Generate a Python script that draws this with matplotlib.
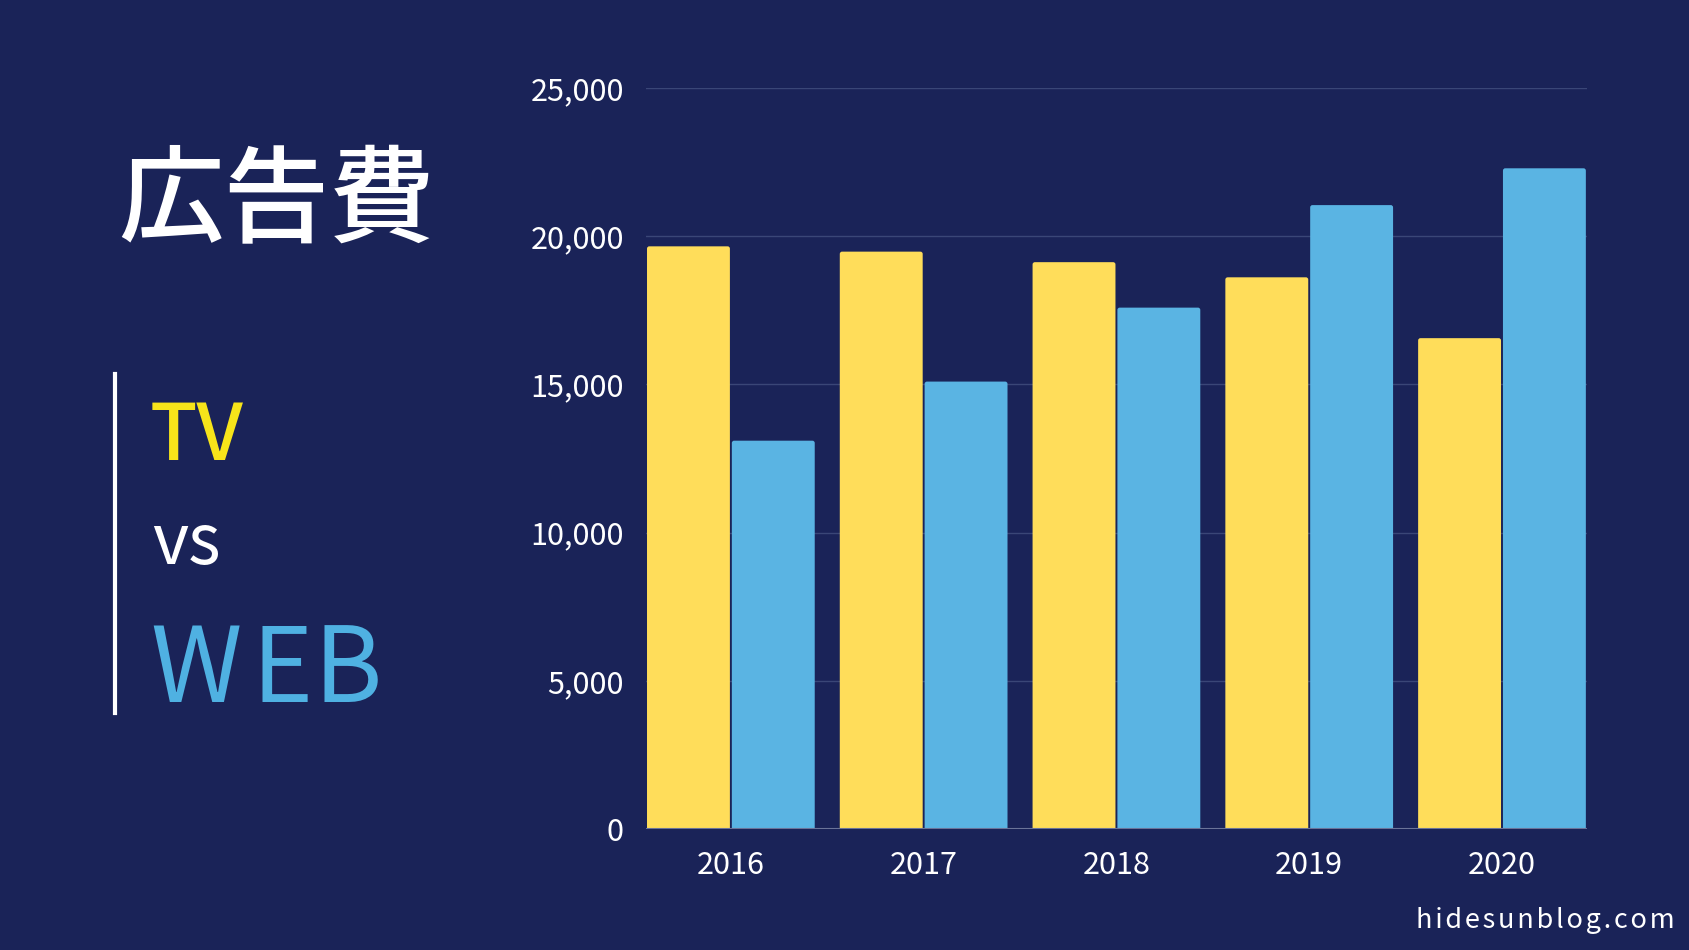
import matplotlib.pyplot as plt
import numpy as np
from matplotlib.ticker import FuncFormatter
from matplotlib.patches import FancyBboxPatch

plt.rcParams['font.family'] = ['Noto Sans CJK JP', 'DejaVu Sans']

years = ['2016', '2017', '2018', '2019', '2020']
tv = [19657, 19478, 19123, 18612, 16559]
web = [13100, 15094, 17589, 21048, 22290]

bg = '#1a2358'
yellow = '#ffdd5a'
blue = '#5ab4e3'

fig = plt.figure(figsize=(16.89, 9.5), dpi=100, facecolor=bg)
ax = fig.add_axes([0.3825, 0.1274, 0.557, 0.78])
ax.set_facecolor(bg)
ax.set_xlim(-0.44, 4.44)
ax.set_ylim(0, 25000)

x = np.arange(len(years))
w = 0.43
bars_tv = ax.bar(x - w / 2 - 0.005, tv, width=w, color=yellow, zorder=3)
bars_web = ax.bar(x + w / 2 + 0.005, web, width=w, color=blue, zorder=3)

# swap plain bars for ones with rounded top corners
fig.canvas.draw()
bb = ax.get_window_extent()
aspect = (25000 / bb.height) / (4.88 / bb.width)
for cont in (bars_tv, bars_web):
    for p in cont.patches:
        x0, y0 = p.get_x(), p.get_y()
        pw, ph = p.get_width(), p.get_height()
        p.set_visible(False)
        rb = FancyBboxPatch((x0, y0 - 600), pw, ph + 600,
                            boxstyle='round,pad=0,rounding_size=0.012',
                            mutation_aspect=aspect, facecolor=p.get_facecolor(),
                            edgecolor='none', zorder=3)
        ax.add_patch(rb)

ax.set_yticks(range(0, 25001, 5000))
ax.yaxis.set_major_formatter(FuncFormatter(lambda v, p: f'{int(v):,}'))
ax.set_xticks(x)
ax.set_xticklabels(years)
ax.grid(axis='y', color='#3a4677', linewidth=1, zorder=0)
ax.axhline(0, color='#6a7398', linewidth=1.5, zorder=4)
for s in ax.spines.values():
    s.set_visible(False)
ax.tick_params(axis='both', length=0, colors='white', labelsize=22)
ax.tick_params(axis='y', pad=16)
ax.tick_params(axis='x', pad=15)

# left side title and legend-like labels
fig.text(118 / 1689, 1 - 203 / 950, '広告費', color='white', fontsize=76,
         fontweight='medium', va='center', ha='left')
fig.add_artist(plt.Line2D([115 / 1689, 115 / 1689], [1 - 374 / 950, 1 - 713 / 950],
                          color='white', linewidth=3))
fig.text(150 / 1689, 1 - 437 / 950, 'TV', color='#f7e41a', fontsize=56,
         fontweight='medium', va='center', ha='left')
fig.text(152 / 1689, 1 - 544 / 950, 'vs', color='white', fontsize=50,
         va='center', ha='left')
for letter, lx in zip('WEB', [150, 252, 314]):
    fig.text(lx / 1689, 1 - 672 / 950, letter, color='#4fb1e2', fontsize=75,
             va='center', ha='left')
fig.text(1675 / 1689, 1 - 921 / 950, '\u200a'.join('hidesunblog.com'),
         color='white', fontsize=19.5, va='center', ha='right')

fig.savefig('out.png', facecolor=bg)
